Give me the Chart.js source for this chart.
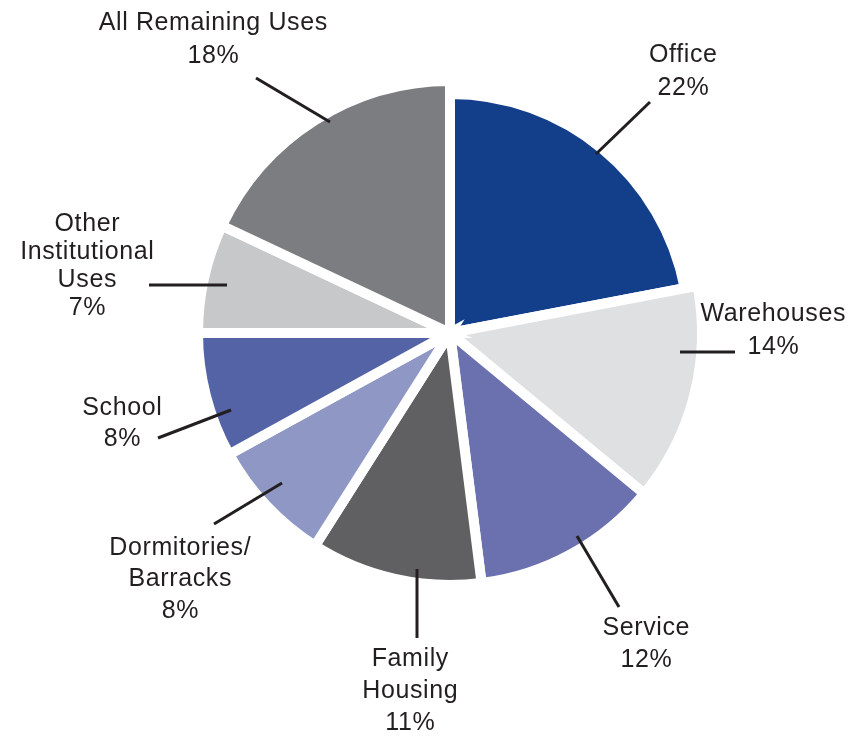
<!DOCTYPE html>
<html>
<head>
<meta charset="utf-8">
<title>Building uses</title>
<script src="https://cdn.jsdelivr.net/npm/chart.js@4.4.1/dist/chart.umd.min.js"></script>
<style>
    html, body { margin: 0; padding: 0; background: #ffffff; }
    .wrap { width: 850px; height: 736px; position: relative; }
</style>
</head>
<body>
<div class="wrap"><canvas id="usesChart"></canvas></div>
<script>
// Share of floor space by use, clockwise from the top
const categories = ['Office', 'Warehouses', 'Service', 'Family Housing', 'Dormitories/ Barracks', 'School', 'Other Institutional Uses', 'All Remaining Uses'];
const shares = [22, 14, 12, 11, 8, 8, 7, 18];
const sliceColors = ['#123e8a', '#dfe0e2', '#6a71ae', '#606062', '#8f97c5', '#5462a6', '#c7c8ca', '#7c7d81'];

// Label lines as they are set on the page
const labelLines = [
    ['Office'],
    ['Warehouses'],
    ['Service'],
    ['Family', 'Housing'],
    ['Dormitories/', 'Barracks'],
    ['School'],
    ['Other', 'Institutional', 'Uses'],
    ['All Remaining Uses']
];

// Callout placement: leader line (x1, y1, x2, y2), text centre x, first line y, line gap
const callouts = [
    { line: [596, 154, 650, 102], x: 683, y: 54, gap: 33 },
    { line: [680, 352, 735, 352], x: 773, y: 313, gap: 33 },
    { line: [577, 536, 619, 607], x: 646, y: 627, gap: 32 },
    { line: [417, 569, 417, 638], x: 410, y: 658, gap: 32 },
    { line: [282, 483, 214, 524], x: 180, y: 547, gap: 31.5 },
    { line: [231, 410, 158, 438], x: 122, y: 407, gap: 31 },
    { line: [149, 285, 227, 285], x: 87, y: 223, gap: 28 },
    { line: [256, 78, 330, 122], x: 213, y: 22, gap: 33 }
];

const ink = '#231f20';
const tracking = 0.6;

// Office wedge sits a little inside the rest of the pie
const trimOffice = {
    id: 'trimOffice',
    afterDatasetsUpdate(chart) {
        const arc = chart.getDatasetMeta(0).data[0];
        if (arc) arc.outerRadius -= 13;
    }
};

// Leader lines and the stacked labels
const callout = {
    id: 'callout',
    afterDraw(chart) {
        const ctx = chart.ctx;
        ctx.save();
        ctx.strokeStyle = ink;
        ctx.lineWidth = 3;
        ctx.lineCap = 'butt';
        ctx.fillStyle = ink;
        ctx.font = '25px "Liberation Sans", Arial, sans-serif';
        ctx.letterSpacing = tracking + 'px';
        ctx.textAlign = 'center';
        ctx.textBaseline = 'middle';
        categories.forEach((name, i) => {
            const c = callouts[i];
            ctx.beginPath();
            ctx.moveTo(c.line[0], c.line[1]);
            ctx.lineTo(c.line[2], c.line[3]);
            ctx.stroke();
            const rows = labelLines[i].concat([shares[i] + '%']);
            rows.forEach((txt, r) => {
                ctx.fillText(txt, c.x + tracking / 2, c.y + 1 + r * c.gap);
            });
        });
        ctx.restore();
    }
};

new Chart(document.getElementById('usesChart'), {
    type: 'pie',
    data: {
        labels: categories,
        datasets: [{
            data: shares,
            backgroundColor: sliceColors,
            borderColor: '#ffffff',
            borderWidth: 10,
            borderJoinStyle: 'miter'
        }]
    },
    options: {
        responsive: true,
        maintainAspectRatio: false,
        animation: false,
        radius: 252,
        layout: {
            padding: { left: 190, right: 140, top: 73, bottom: 143 }
        },
        plugins: {
            legend: { display: false },
            tooltip: { enabled: false }
        }
    },
    plugins: [trimOffice, callout]
});
</script>
</body>
</html>
